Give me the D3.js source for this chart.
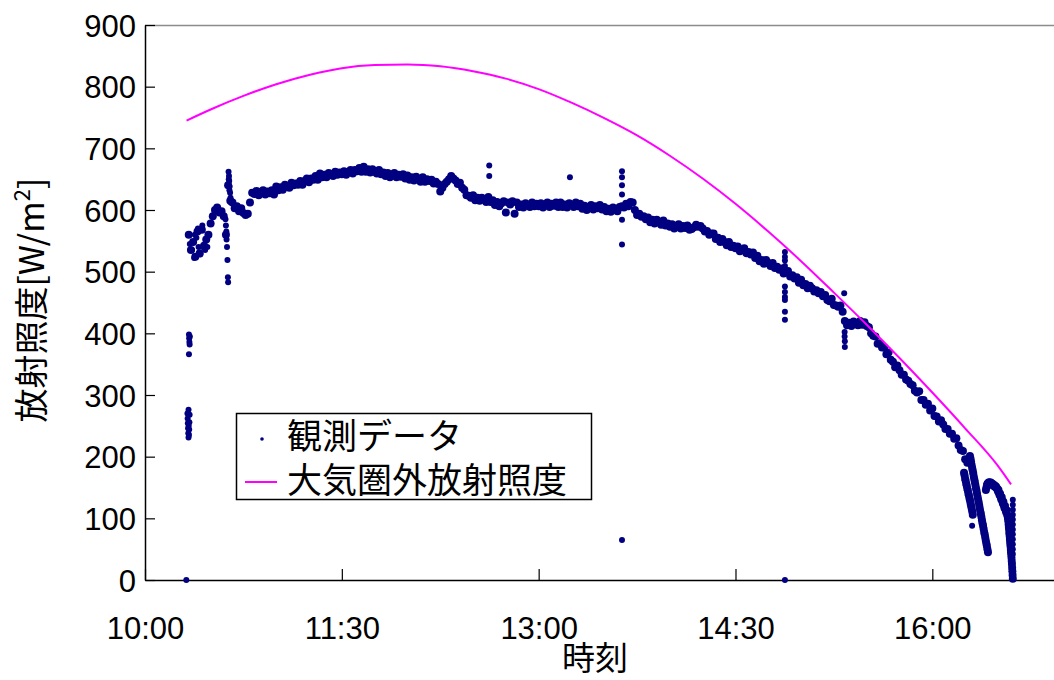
<!DOCTYPE html>
<html>
<head>
<meta charset="utf-8">
<script src="https://cdn.jsdelivr.net/npm/d3@7"></script>
<style>
  body { margin: 0; background: #fff; }
  svg { display: block; }
</style>
</head>
<body>
<svg id="chart" width="1054" height="680"></svg>
<script>
// ---- data -------------------------------------------------------------
// Times are minutes after 10:00.

// Axis ticks
const xTickLabels = ["10:00", "11:30", "13:00", "14:30", "16:00"];
const yTickValues = [0, 100, 200, 300, 400, 500, 600, 700, 800, 900];
const yTickLabels = ["0", "100", "200", "300", "400", "500", "600", "700", "800", "900"];

// Legend entries
const seriesNames = ["観測データ", "大気圏外放射照度"];

// Measured irradiance, one reading per minute starting at 10:20 [W/m2]
const obsStartMinute = 20;
const obsValues = [
  560, 535, 548, 524, 565, 530, 568, 542, 552, 560,
  578, 590, 600, 604, 596, 598, 590, 560, 640, 615,
  612, 603, 606, 598, 603, 595, 592, 594, 612, 628,
  626, 631, 624, 629, 632, 625, 630, 627, 632, 625,
  638, 632, 637, 633, 641, 638, 636, 644, 640, 643,
  641, 647, 641, 647, 651, 645, 651, 649, 655, 649,
  659, 653, 657, 653, 660, 657, 655, 662, 657, 661,
  658, 663, 657, 662, 665, 659, 665, 663, 668, 662,
  670, 662, 666, 661, 666, 662, 659, 665, 658, 661,
  655, 660, 653, 657, 660, 653, 657, 654, 658, 651,
  656, 649, 653, 648, 654, 650, 646, 653, 646, 650,
  647, 649, 643, 646, 642, 630, 636, 642, 646, 650,
  655, 651, 648, 642, 644, 636, 633, 624, 623, 620,
  624, 616, 620, 615, 620, 617, 613, 621, 613, 616,
  608, 613, 606, 611, 614, 596, 612, 609, 614, 594,
  612, 605, 609, 604, 611, 608, 605, 612, 606, 610,
  606, 611, 604, 609, 612, 605, 610, 607, 612, 605,
  612, 605, 609, 604, 611, 608, 605, 612, 606, 610,
  602, 607, 600, 605, 608, 601, 606, 603, 608, 601,
  605, 598, 602, 597, 604, 601, 598, 605, 606, 604,
  610, 606, 613, 612, 600, 592, 594, 589, 590, 585,
  588, 580, 584, 578, 584, 580, 576, 583, 575, 578,
  573, 577, 570, 574, 577, 570, 574, 571, 575, 568,
  569, 572, 576, 573, 574, 570, 565, 566, 560, 562,
  562, 553, 555, 548, 553, 548, 543, 548, 540, 542,
  538, 541, 533, 536, 538, 530, 532, 528, 531, 522,
  526, 517, 519, 513, 519, 514, 509, 514, 506, 508,
  503, 505, 497, 499, 501, 492, 494, 489, 491, 482,
  487, 478, 480, 473, 477, 473, 468, 470, 465, 467,
  460, 462, 454, 452, 456, 446, 445, 443, 445, 435,
  420, 413, 417, 412, 419, 416, 413, 420, 414, 418,
  412, 410, 400, 396, 395, 383, 384, 377, 377, 366,
  369, 357, 354, 345, 348, 340, 333, 333, 325, 323,
  318, 316, 307, 304, 306, 292, 292, 284, 286, 275,
  278, 266, 265, 257, 259, 252, 245, 245, 237, 237,
  229, 230, 218, 211, 209, 196, 190
];

// Late-afternoon readings while the sensor was being shaded (fine time steps)
const shadeRunA = [174, 170, 164, 161, 156, 153, 148, 145, 140, 137, 132, 129, 124, 120, 116, 111, 106];
const shadeRunB = [201, 197, 192, 187, 182, 178, 173, 168, 163, 159, 154, 149, 145, 140, 135, 130, 126,
                   121, 116, 111, 107, 102, 97, 92, 88, 83, 78, 74, 69, 64, 59, 55, 50, 45];
const shadeRunC = [146, 150, 154, 156, 157, 158, 158, 158, 157, 158, 156, 155, 156, 154, 153, 154, 152,
                   151, 152, 150, 149, 147, 144, 146, 141, 138, 140, 135, 131, 134, 128, 124, 127, 121,
                   117, 120, 114, 110, 113, 106, 102];
const shadeRunD = [102, 98, 95, 90, 86, 83, 78, 74, 70, 66, 62, 58, 54, 49, 45, 41, 36, 31, 26, 20, 14, 8, 2];
const shadeRunStart = [374.5, 377.2, 384.5, 394.6];
const shadeRunStep = [0.25, 0.25, 0.25, 0.1];

// Additional individual readings: start-up transients, bursts and outliers [minute, W/m2]
const obsExtra = [
  [18.9, 0], [19.4, 270], [19.5, 262], [19.6, 254], [19.7, 246], [19.8, 238], [19.9, 231],
  [20.0, 250], [19.9, 276], [20.1, 235], [20.2, 244], [20.3, 256], [20.4, 268],
  [20.1, 366], [20.1, 398], [20.2, 392], [20.3, 386], [20.4, 382], [20.5, 395],
  [20.5, 545], [21.5, 535], [22.5, 522], [22.8, 560], [23.5, 555], [24.2, 570], [24.5, 540],
  [25.3, 528], [26.2, 575], [26.5, 540], [27.5, 535], [28.5, 540],
  [36.8, 585], [37.0, 575], [37.2, 565], [37.3, 552], [37.5, 540], [37.7, 519], [37.9, 491], [38.0, 483],
  [38.2, 662], [38.3, 650], [38.4, 655], [38.5, 647], [38.6, 632], [38.7, 638], [38.9, 628], [39.1, 620], [39.3, 612],
  [157.4, 672], [157.4, 655], [194.3, 653],
  [218.1, 663], [218.1, 653], [218.1, 640], [218.1, 625], [218.1, 584], [218.1, 544], [218.1, 65],
  [292.6, 532], [292.6, 524], [292.6, 518], [292.6, 509], [292.6, 476], [292.6, 467],
  [292.6, 459], [292.6, 454], [292.6, 435], [292.6, 422], [292.6, 0],
  [319.7, 465], [319.9, 402], [319.9, 395], [320.0, 387], [320.0, 378],
  [378.2, 88],
  [396.8, 130], [396.8, 122], [396.8, 114], [396.8, 106], [396.8, 98], [396.8, 90],
  [396.8, 82], [396.8, 74], [396.8, 66], [396.8, 58], [396.8, 50], [396.8, 42]
];

// Extraterrestrial irradiance on a horizontal surface [W/m2]
const exoMinutes = [19, 30, 45, 60, 75, 90, 105, 120, 135, 150, 165, 180, 195, 210, 225,
                    240, 255, 270, 285, 300, 315, 330, 345, 360, 375, 390, 396];
const exoValues = [745, 763, 785, 804, 819, 830, 835, 836, 833, 825, 813, 796, 774, 749, 721,
                   688, 651, 610, 565, 517, 466, 414, 360, 304, 246, 185, 155];

// ---- build point lists ------------------------------------------------
const toMinutes = s => { const [h, m] = s.split(":").map(Number); return (h - 10) * 60 + m; };

// continuous record (per-minute series and shaded stretches) drawn as the dense band
const bandPoints = [];
obsValues.forEach((v, i) => bandPoints.push([obsStartMinute + i, v]));
[shadeRunA, shadeRunB, shadeRunC, shadeRunD].forEach((run, k) => {
  run.forEach((v, i) => bandPoints.push([shadeRunStart[k] + i * shadeRunStep[k], v]));
});

const exoPoints = exoMinutes.map((m, i) => [m, exoValues[i]]);

// ---- chart ------------------------------------------------------------
const NAVY = "#000080", MAGENTA = "#ff00ff";
const numFont = "'Liberation Sans', Arial, sans-serif";
const jpFont = "'Noto Sans CJK JP', sans-serif";

const svg = d3.select("#chart");
svg.append("rect").attr("width", 1054).attr("height", 680).attr("fill", "#fff");

const plot = { left: 145, top: 25, bottom: 580 };
const x = d3.scaleLinear().domain([0, 420]).range([plot.left, plot.left + 420 * 2.187]);
const y = d3.scaleLinear().domain([0, 900]).range([plot.bottom, plot.top]);

// plot frame (top edge)
svg.append("line")
  .attr("x1", plot.left).attr("x2", 1054)
  .attr("y1", plot.top + 0.5).attr("y2", plot.top + 0.5)
  .attr("stroke", "#8c8c8c").attr("stroke-width", 1.5);

// y axis
const yAxis = svg.append("g")
  .attr("transform", `translate(${plot.left},0)`)
  .call(d3.axisLeft(y)
    .tickValues(yTickValues)
    .tickFormat((d, i) => yTickLabels[i])
    .tickSizeInner(-10).tickSizeOuter(0).tickPadding(9));
yAxis.select(".domain").attr("stroke", "#000").attr("stroke-width", 1.5);
yAxis.selectAll(".tick line").attr("stroke", "#000").attr("stroke-width", 1.2);
yAxis.selectAll(".tick text")
  .attr("font-family", numFont).attr("font-size", 31).attr("fill", "#000")
  .attr("dy", "0.36em");

// x axis
const xAxis = svg.append("g")
  .attr("transform", `translate(0,${plot.bottom})`)
  .call(d3.axisBottom(x)
    .tickValues(xTickLabels.map(toMinutes))
    .tickFormat((d, i) => xTickLabels[i])
    .tickSizeInner(-11).tickSizeOuter(0).tickPadding(37));
xAxis.select(".domain").attr("stroke", "#000").attr("stroke-width", 1.5);
xAxis.selectAll(".tick line").attr("stroke", "#000").attr("stroke-width", 1.2);
xAxis.selectAll(".tick text")
  .attr("font-family", numFont).attr("font-size", 31).attr("fill", "#000");

// axis titles
svg.append("text")
  .attr("x", 595).attr("y", 670)
  .attr("text-anchor", "middle")
  .attr("font-family", jpFont).attr("font-size", 33).attr("fill", "#000")
  .text("時刻");

const yTitle = svg.append("text")
  .attr("transform", "translate(44,300) rotate(-90)")
  .attr("text-anchor", "middle")
  .attr("font-family", jpFont).attr("font-size", 34).attr("fill", "#000");
yTitle.append("tspan").text("放射照度[W/m");
yTitle.append("tspan").attr("font-size", 22).attr("dy", -14).text("2");
yTitle.append("tspan").attr("dy", 14).text("]");

// measured points: dense record, then isolated readings
const obsLayer = svg.append("g").attr("fill", NAVY);
obsLayer.selectAll("circle.band")
  .data(bandPoints)
  .join("circle")
  .attr("class", "band")
  .attr("cx", d => x(d[0]))
  .attr("cy", d => y(d[1]))
  .attr("r", 4);
obsLayer.selectAll("circle.extra")
  .data(obsExtra)
  .join("circle")
  .attr("class", "extra")
  .attr("cx", d => x(d[0]))
  .attr("cy", d => y(d[1]))
  .attr("r", 3);

// extraterrestrial curve
svg.append("path")
  .datum(exoPoints)
  .attr("fill", "none")
  .attr("stroke", MAGENTA)
  .attr("stroke-width", 2)
  .attr("d", d3.line().x(d => x(d[0])).y(d => y(d[1])).curve(d3.curveMonotoneX));

// legend
const legend = svg.append("g");
legend.append("rect")
  .attr("x", 236.5).attr("y", 413.5).attr("width", 355).attr("height", 86)
  .attr("fill", "#fff").attr("stroke", "#000").attr("stroke-width", 1.5);
legend.append("circle")
  .attr("cx", 262).attr("cy", 439).attr("r", 1.8)
  .attr("fill", NAVY);
legend.append("line")
  .attr("x1", 245).attr("x2", 277).attr("y1", 482).attr("y2", 482)
  .attr("stroke", MAGENTA).attr("stroke-width", 2);
legend.selectAll("text.entry")
  .data(seriesNames)
  .join("text")
  .attr("class", "entry")
  .attr("x", 287)
  .attr("y", (d, i) => 449 + i * 44)
  .attr("font-family", jpFont).attr("font-size", 35).attr("fill", "#000")
  .text(d => d);
</script>
</body>
</html>
